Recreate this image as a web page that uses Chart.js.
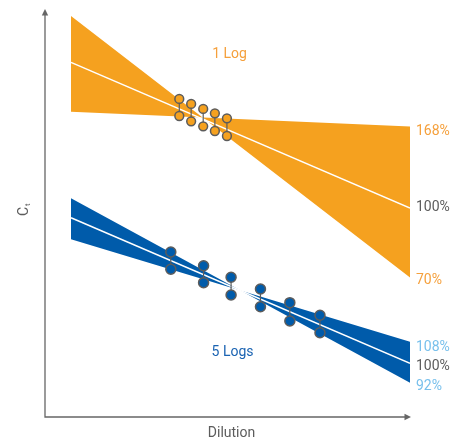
<!DOCTYPE html>
<html>
<head>
<meta charset="utf-8">
<script src="https://cdn.jsdelivr.net/npm/chart.js@4/dist/chart.umd.min.js"></script>
<style>
  html, body { margin: 0; padding: 0; background: #fff; }
  canvas { display: block; }
</style>
</head>
<body>
<canvas id="c" width="463" height="445"></canvas>
<script>
// fitted lines span the dilution range x = 1 .. 10, Ct on y
var bandX = [1, 10];
var oneLogMid  = [34.77, 20.49];  // 100 %
var oneLogHigh = [29.93, 28.48];  // 168 %
var oneLogLow  = [39.31, 13.68];  // 70 %
var fiveLogMid  = [19.54, 5.26];  // 100 %
var fiveLogHigh = [17.42, 7.38];  // 108 %
var fiveLogLow  = [21.44, 3.36];  // 92 %

// replicate pairs
var oneLogX    = [3.875, 4.19, 4.51, 4.82, 5.14];
var oneLogRepA = [31.18, 30.69, 30.20, 29.77, 29.28];
var oneLogRepB = [29.51, 28.99, 28.50, 28.04, 27.55];
var fiveLogX    = [3.65, 4.52, 5.25, 6.03, 6.81, 7.61];
var fiveLogRepA = [16.18, 14.83, 13.70, 12.55, 11.21, 9.97];
var fiveLogRepB = [14.48, 13.17, 11.96, 10.81, 9.41, 8.26];

var endLabels = ['168%', '100%', '70%', '108%', '100%', '92%'];
var seriesNames = ['1 Log', '5 Logs'];

var ORANGE = '#F5A11F', BLUE = '#005BAA', GREY = '#5c5c5c';
var ORANGE_TXT = '#F5A03C', LBLUE_TXT = '#78C0EC';

function line(ys) {
  return bandX.map(function(x, i) { return { x: x, y: ys[i] }; });
}
function pairs(xs, a, b) {
  var out = [];
  xs.forEach(function(x, i) {
    out.push({ x: x, y: a[i] }, { x: x, y: b[i] }, { x: x, y: null });
  });
  return out;
}

var overlay = {
  id: 'overlay',
  afterDatasetsDraw: function(chart) {
    var ctx = chart.ctx, a = chart.chartArea;
    var sx = chart.scales.x, sy = chart.scales.y;
    ctx.save();
    // axes with arrows
    ctx.strokeStyle = '#666'; ctx.fillStyle = '#666'; ctx.lineWidth = 1.3;
    ctx.beginPath();
    ctx.moveTo(a.left, a.top + 5); ctx.lineTo(a.left, a.bottom); ctx.lineTo(a.right - 5, a.bottom);
    ctx.stroke();
    ctx.beginPath();
    ctx.moveTo(a.left, a.top); ctx.lineTo(a.left - 3.2, a.top + 6.5); ctx.lineTo(a.left + 3.2, a.top + 6.5); ctx.closePath();
    ctx.fill();
    ctx.beginPath();
    ctx.moveTo(a.right + 1, a.bottom); ctx.lineTo(a.right - 5.5, a.bottom - 3.2); ctx.lineTo(a.right - 5.5, a.bottom + 3.2); ctx.closePath();
    ctx.fill();

    ctx.font = '14px Roboto';
    ctx.textBaseline = 'middle';

    // right-hand efficiency labels
    var ends = [oneLogHigh[1], oneLogMid[1], oneLogLow[1], fiveLogHigh[1], fiveLogMid[1], fiveLogLow[1]];
    var cols = [ORANGE_TXT, GREY, ORANGE_TXT, LBLUE_TXT, GREY, LBLUE_TXT];
    var nudge = [5, -1, 3.5, 5.5, 2.7, 3.3];
    ctx.textAlign = 'left';
    endLabels.forEach(function(t, i) {
      ctx.fillStyle = cols[i];
      ctx.fillText(t, sx.getPixelForValue(bandX[1]) + 6, sy.getPixelForValue(ends[i]) + nudge[i]);
    });

    // series names
    ctx.textAlign = 'center';
    ctx.fillStyle = ORANGE_TXT;
    ctx.fillText(seriesNames[0], sx.getPixelForValue(5.21), sy.getPixelForValue(35.5));
    ctx.fillStyle = '#1a63b2';
    ctx.fillText(seriesNames[1], sx.getPixelForValue(5.29), sy.getPixelForValue(6.37));

    // axis titles
    ctx.fillStyle = GREY;
    ctx.fillText('Dilution', (a.left + a.right) / 2 + 4, a.bottom + 16);
    ctx.translate(a.left - 21, (a.top + a.bottom) / 2 - 3);
    ctx.rotate(-Math.PI / 2);
    ctx.textAlign = 'left';
    ctx.fillText('C', -6, 0);
    ctx.font = '8px Roboto';
    ctx.fillText('t', 4, 4);
    ctx.restore();
  }
};

new Chart(document.getElementById('c'), {
  type: 'line',
  data: {
    datasets: [
      { label: '1 Log replicates', data: pairs(oneLogX, oneLogRepA, oneLogRepB), order: 0,
        borderColor: GREY, borderWidth: 1.2, spanGaps: false,
        pointRadius: 4.4, pointBackgroundColor: ORANGE, pointBorderColor: GREY, pointBorderWidth: 1.5 },
      { label: '5 Logs replicates', data: pairs(fiveLogX, fiveLogRepA, fiveLogRepB), order: 0,
        borderColor: GREY, borderWidth: 1.2, spanGaps: false,
        pointRadius: 5, pointBackgroundColor: BLUE, pointBorderColor: GREY, pointBorderWidth: 1.5 },
      { label: '1 Log fit', data: line(oneLogMid), order: 1, borderColor: '#fff', borderWidth: 1.5, pointRadius: 0 },
      { label: '5 Logs fit', data: line(fiveLogMid), order: 1, borderColor: '#fff', borderWidth: 1.5, pointRadius: 0 },
      { label: '1 Log 70%', data: line(oneLogLow), order: 2, borderWidth: 0, pointRadius: 0,
        backgroundColor: ORANGE, fill: '+1' },
      { label: '1 Log 168%', data: line(oneLogHigh), order: 2, borderWidth: 0, pointRadius: 0, fill: false },
      { label: '5 Logs 92%', data: line(fiveLogLow), order: 2, borderWidth: 0, pointRadius: 0,
        backgroundColor: BLUE, fill: '+1' },
      { label: '5 Logs 108%', data: line(fiveLogHigh), order: 2, borderWidth: 0, pointRadius: 0, fill: false }
    ]
  },
  options: {
    responsive: false,
    animation: false,
    layout: { padding: { left: 45, right: 53, top: 9, bottom: 28 } },
    scales: {
      x: { type: 'linear', display: false, min: 0.31, max: 10 },
      y: { type: 'linear', display: false, min: 0, max: 40 }
    },
    plugins: { legend: { display: false }, tooltip: { enabled: false } }
  },
  plugins: [overlay]
});
</script>
</body>
</html>
